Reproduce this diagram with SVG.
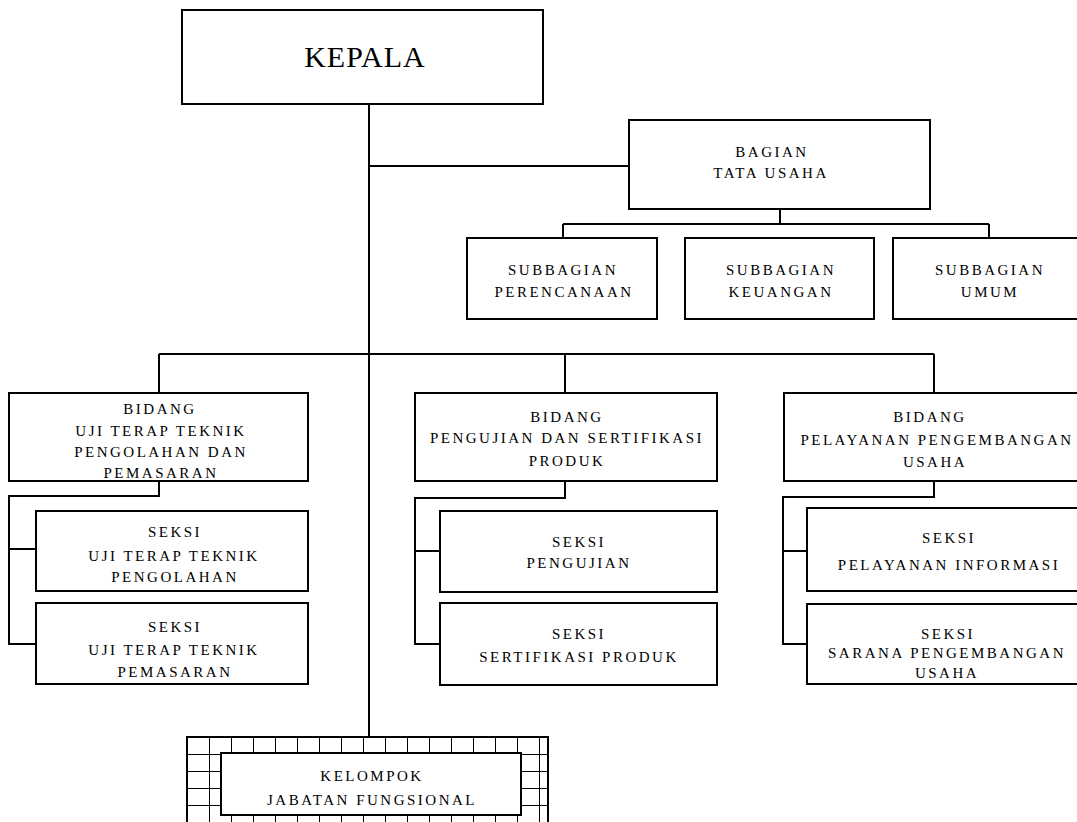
<svg xmlns="http://www.w3.org/2000/svg" width="1077" height="822" viewBox="0 0 1077 822">
<style>
.box{fill:#fff;stroke:#000;stroke-width:2}
.ln{fill:none;stroke:#000;stroke-width:2}
.t{font-family:"Liberation Serif","Times New Roman",serif;font-size:15px;letter-spacing:2.5px;text-anchor:middle;fill:#000}
.big{font-family:"Liberation Serif","Times New Roman",serif;font-size:30px;letter-spacing:1px;text-anchor:middle;fill:#000}
</style>
<defs>
<pattern id="grid" patternUnits="userSpaceOnUse" x="187" y="737" width="22" height="17">
<rect width="22" height="17" fill="#fff"/>
<path d="M0 0H22M0 0V17" stroke="#000" stroke-width="2" fill="none"/>
</pattern>
</defs>
<rect width="1077" height="822" fill="#fff"/>
<g id="connectors">
<path class="ln" d="M369 104V737"/>
<path class="ln" d="M369 166H629"/>
<path class="ln" d="M780 209V224M563 224H989M563 224V238M989 224V238"/>
<path class="ln" d="M159 354H934M159 354V393M565 354V393M934 354V393"/>
<path class="ln" d="M159 481V496H9V644H36M9 549H36"/>
<path class="ln" d="M565 481V498H415V644H440M415 551H440"/>
<path class="ln" d="M934 481V497H783V644H807M783 551H807"/>
</g>
<g id="kepala">
<rect class="box" x="182" y="10" width="361" height="94"/>
<text class="big" x="365" y="67">KEPALA</text>
</g>
<g id="bagian-tata-usaha">
<rect class="box" x="629" y="120" width="301" height="89"/>
<text class="t" x="772" y="157">BAGIAN</text>
<text class="t" x="771" y="178">TATA USAHA</text>
</g>
<g id="subbagian-perencanaan">
<rect class="box" x="467" y="238" width="190" height="81"/>
<text class="t" x="563" y="275">SUBBAGIAN</text>
<text class="t" x="564" y="297">PERENCANAAN</text>
</g>
<g id="subbagian-keuangan">
<rect class="box" x="685" y="238" width="189" height="81"/>
<text class="t" x="781" y="275">SUBBAGIAN</text>
<text class="t" x="781" y="297">KEUANGAN</text>
</g>
<g id="subbagian-umum">
<rect class="box" x="893" y="238" width="192" height="81"/>
<text class="t" x="990" y="275">SUBBAGIAN</text>
<text class="t" x="990" y="297">UMUM</text>
</g>
<g id="bidang-uji">
<rect class="box" x="9" y="393" width="299" height="88"/>
<text class="t" x="160" y="414">BIDANG</text>
<text class="t" x="161" y="436">UJI TERAP TEKNIK</text>
<text class="t" x="161" y="457">PENGOLAHAN DAN</text>
<text class="t" x="161" y="478">PEMASARAN</text>
</g>
<g id="seksi-pengolahan">
<rect class="box" x="36" y="511" width="272" height="80"/>
<text class="t" x="175" y="537">SEKSI</text>
<text class="t" x="174" y="561">UJI TERAP TEKNIK</text>
<text class="t" x="175" y="582">PENGOLAHAN</text>
</g>
<g id="seksi-pemasaran">
<rect class="box" x="36" y="603" width="272" height="81"/>
<text class="t" x="175" y="632">SEKSI</text>
<text class="t" x="174" y="655">UJI TERAP TEKNIK</text>
<text class="t" x="175" y="677">PEMASARAN</text>
</g>
<g id="bidang-pengujian">
<rect class="box" x="415" y="393" width="302" height="88"/>
<text class="t" x="567" y="422">BIDANG</text>
<text class="t" x="567" y="443">PENGUJIAN DAN SERTIFIKASI</text>
<text class="t" x="567" y="466">PRODUK</text>
</g>
<g id="seksi-pengujian">
<rect class="box" x="440" y="511" width="277" height="81"/>
<text class="t" x="579" y="547">SEKSI</text>
<text class="t" x="579" y="568">PENGUJIAN</text>
</g>
<g id="seksi-sertifikasi">
<rect class="box" x="440" y="603" width="277" height="82"/>
<text class="t" x="579" y="639">SEKSI</text>
<text class="t" x="579" y="662">SERTIFIKASI PRODUK</text>
</g>
<g id="bidang-pelayanan">
<rect class="box" x="784" y="393" width="302" height="88"/>
<text class="t" x="930" y="422">BIDANG</text>
<text class="t" x="937" y="445">PELAYANAN PENGEMBANGAN</text>
<text class="t" x="935" y="467">USAHA</text>
</g>
<g id="seksi-informasi">
<rect class="box" x="807" y="508" width="279" height="83"/>
<text class="t" x="949" y="543">SEKSI</text>
<text class="t" x="949" y="570">PELAYANAN INFORMASI</text>
</g>
<g id="seksi-sarana">
<rect class="box" x="807" y="604" width="279" height="80"/>
<text class="t" x="948" y="639">SEKSI</text>
<text class="t" x="947" y="658">SARANA PENGEMBANGAN</text>
<text class="t" x="947" y="678">USAHA</text>
</g>
<g id="kelompok-jabatan-fungsional">
<rect x="187" y="737" width="361" height="100" fill="url(#grid)" stroke="#000" stroke-width="2"/>
<rect class="box" x="221" y="753" width="300" height="62"/>
<text class="t" x="372" y="781">KELOMPOK</text>
<text class="t" x="372" y="805">JABATAN FUNGSIONAL</text>
</g>
</svg>
